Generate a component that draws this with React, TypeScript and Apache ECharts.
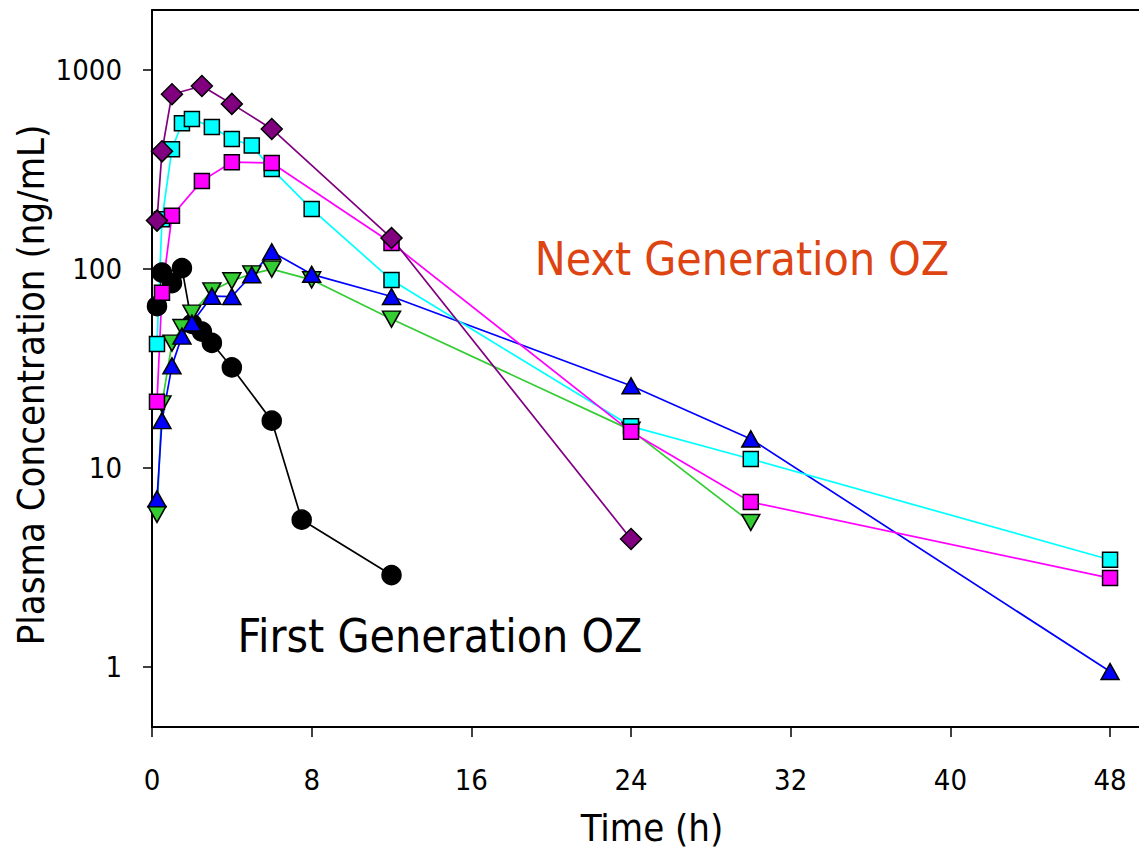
import React, { useEffect, useRef } from "react";
import * as echarts from "echarts";

const FONT = '"DejaVu Sans Condensed", "DejaVu Sans", sans-serif';

const X_TICKS = [0, 8, 16, 24, 32, 40, 48];
const Y_TICKS = [1, 10, 100, 1000];

// First generation OZ (black circles)
const BLACK_T = [0.25, 0.5, 1, 1.5, 2, 2.5, 3, 4, 6, 7.5, 12];
const BLACK_C = [65, 96, 85, 101, 53, 48.5, 42.5, 32, 17.3, 5.5, 2.9];

// Next generation OZ
const GREEN_T = [0.25, 0.5, 1, 1.5, 2, 3, 4, 5, 6, 8, 12, 24, 30];
const GREEN_C = [5.85, 21, 42.4, 50.8, 60, 77.6, 87.2, 94.5, 99.8, 88.2, 56, 15.5, 5.33];

const BLUE_T = [0.25, 0.5, 1, 1.5, 2, 3, 4, 5, 6, 8, 12, 24, 30, 48];
const BLUE_C = [7.0, 17.3, 32.6, 46, 53.5, 73, 72.7, 93.5, 122, 94, 72.7, 25.9, 14.0, 0.95];

const CYAN_T = [0.25, 0.5, 1, 1.5, 2, 3, 4, 5, 6, 8, 12, 24, 30, 48];
const CYAN_C = [42, 178, 400, 540, 567, 517, 450, 417, 318, 200, 88, 16.2, 11.1, 3.46];

const MAGENTA_T = [0.25, 0.5, 1, 2.5, 4, 6, 12, 24, 30, 48];
const MAGENTA_C = [21.5, 76, 185, 277, 344, 341, 135, 15.2, 6.75, 2.8];

const PURPLE_T = [0.25, 0.5, 1, 2.5, 4, 6, 12, 24];
const PURPLE_C = [175, 390, 755, 830, 675, 505, 143, 4.4];

const pairs = (t: number[], c: number[]) => t.map((v, i) => [v, c[i]]);

function makeSeries(
  name: string,
  t: number[],
  c: number[],
  color: string,
  symbol: string,
  size: number | number[],
  rotate = 0
) {
  return {
    name,
    type: "line",
    data: pairs(t, c),
    symbol,
    symbolSize: size,
    symbolRotate: rotate,
    showAllSymbol: true,
    lineStyle: { color, width: 1.7 },
    itemStyle: { color, borderColor: "#000", borderWidth: 1.5 },
    emphasis: { disabled: true },
    clip: false,
  };
}

export default function App() {
  const ref = useRef<HTMLDivElement>(null);
  useEffect(() => {
    if (!ref.current) return;
    const chart = echarts.init(ref.current, undefined, { renderer: "svg" });
    const axisLineStyle = { color: "#000", width: 2 };
    chart.setOption({
      animation: false,
      backgroundColor: "#fff",
      grid: { left: 152, top: 10, right: 0, bottom: 124, containLabel: false },
      xAxis: [
        {
          type: "value",
          min: 0,
          max: 49.45,
          position: "bottom",
          axisLine: { show: true, onZero: false, lineStyle: axisLineStyle },
          axisTick: {
            show: true,
            length: 10,
            customValues: X_TICKS,
            lineStyle: { color: "#000", width: 1.5 },
          },
          axisLabel: {
            customValues: X_TICKS,
            margin: 38,
            fontSize: 29,
            fontFamily: FONT,
            color: "#000",
            formatter: (v: number) => String(v),
          },
          splitLine: { show: false },
        },
        {
          type: "value",
          min: 0,
          max: 49.45,
          position: "top",
          axisLine: { show: true, onZero: false, lineStyle: axisLineStyle },
          axisTick: { show: false },
          axisLabel: { show: false },
          splitLine: { show: false },
        },
      ],
      yAxis: {
        type: "log",
        logBase: 10,
        min: 0.5,
        max: 2000,
        axisLine: { show: true, onZero: false, lineStyle: axisLineStyle },
        axisTick: {
          show: true,
          length: 9,
          customValues: Y_TICKS,
          lineStyle: { color: "#000", width: 1.5 },
        },
        axisLabel: {
          customValues: Y_TICKS,
          margin: 30,
          fontSize: 29,
          fontFamily: FONT,
          color: "#000",
          formatter: (v: number) => String(Math.round(v)),
        },
        splitLine: { show: false },
      },
      series: [
        makeSeries("First Generation OZ", BLACK_T, BLACK_C, "#000000", "circle", 19),
        makeSeries("Green", GREEN_T, GREEN_C, "#33CC33", "triangle", [18, 16], 180),
        makeSeries("Blue", BLUE_T, BLUE_C, "#0000FF", "triangle", [18, 16]),
        makeSeries("Cyan", CYAN_T, CYAN_C, "#00FFFF", "rect", 15),
        makeSeries("Magenta", MAGENTA_T, MAGENTA_C, "#FF00FF", "rect", 15),
        makeSeries("Purple", PURPLE_T, PURPLE_C, "#800080", "diamond", 21),
      ],
      graphic: [
        {
          type: "text",
          x: 31,
          y: 385,
          rotation: Math.PI / 2,
          style: {
            text: "Plasma Concentration (ng/mL)",
            fontSize: 38,
            fontFamily: FONT,
            fill: "#000",
            align: "center",
            verticalAlign: "middle",
          },
        },
        {
          type: "text",
          x: 652,
          y: 828,
          style: {
            text: "Time (h)",
            fontSize: 38,
            fontFamily: FONT,
            fill: "#000",
            align: "center",
            verticalAlign: "middle",
          },
        },
        {
          type: "text",
          x: 742,
          y: 259,
          style: {
            text: "Next Generation OZ",
            fontSize: 46,
            fontFamily: FONT,
            fill: "#DD4411",
            align: "center",
            verticalAlign: "middle",
          },
        },
        {
          type: "text",
          x: 440,
          y: 636,
          style: {
            text: "First Generation OZ",
            fontSize: 46,
            fontFamily: FONT,
            fill: "#000",
            align: "center",
            verticalAlign: "middle",
          },
        },
      ],
    });
    return () => chart.dispose();
  }, []);
  return (
    <div
      ref={ref}
      style={{ position: "fixed", left: 0, top: 0, width: 1139, height: 851, background: "#fff" }}
    />
  );
}
